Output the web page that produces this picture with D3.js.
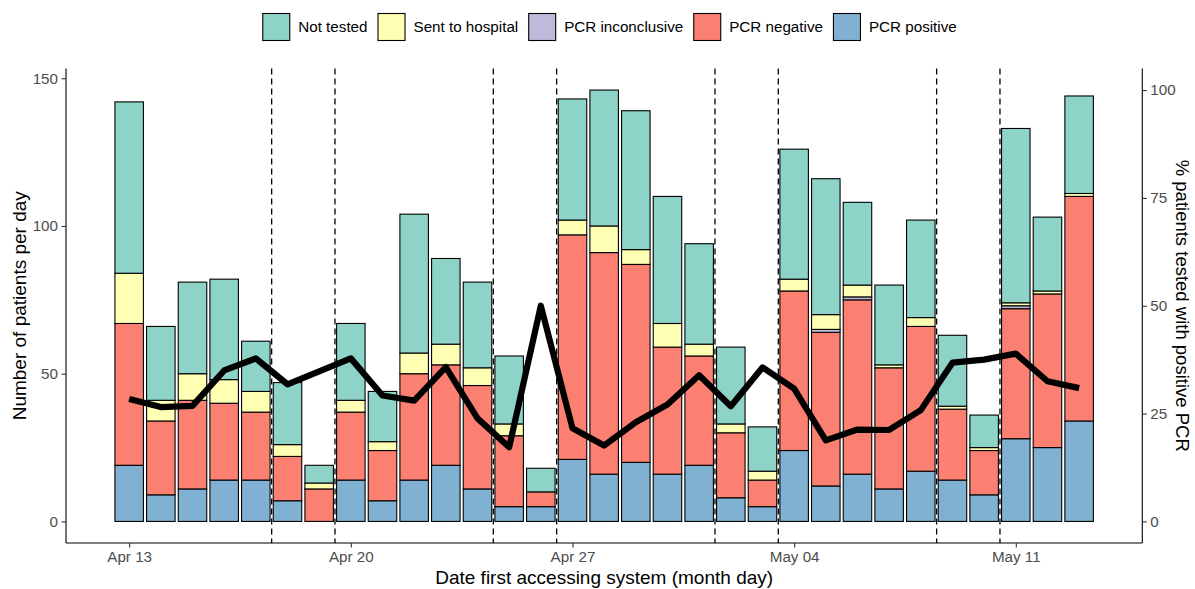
<!DOCTYPE html>
<html>
<head>
<meta charset="utf-8">
<script src="https://cdn.jsdelivr.net/npm/d3@7"></script>
<style>
  html, body { margin: 0; padding: 0; background: #fff; }
  svg { display: block; font-family: "Liberation Sans", Arial, Helvetica, sans-serif; }
</style>
</head>
<body>
<svg id="chart" width="1195" height="589"></svg>
<script>
// ---------- data ----------
const dates = ["2020-04-13","2020-04-14","2020-04-15","2020-04-16","2020-04-17","2020-04-18","2020-04-19",
  "2020-04-20","2020-04-21","2020-04-22","2020-04-23","2020-04-24","2020-04-25","2020-04-26",
  "2020-04-27","2020-04-28","2020-04-29","2020-04-30","2020-05-01","2020-05-02","2020-05-03",
  "2020-05-04","2020-05-05","2020-05-06","2020-05-07","2020-05-08","2020-05-09","2020-05-10",
  "2020-05-11","2020-05-12","2020-05-13"];
const pcrPositive     = [19,9,11,14,14,7,0,14,7,14,19,11,5,5,21,16,20,16,19,8,5,24,12,16,11,17,14,9,28,25,34];
const pcrNegative     = [48,25,30,26,23,15,11,23,17,36,34,35,24,5,76,75,67,43,37,22,9,54,52,59,41,49,24,15,44,52,76];
const pcrInconclusive = [0,0,0,0,0,0,0,0,0,0,0,0,0,0,0,0,0,0,0,0,0,0,1,1,0,0,0,0,1,0,0];
const sentToHospital  = [17,7,9,8,7,4,2,4,3,7,7,6,4,0,5,9,5,8,4,3,3,4,5,4,1,3,1,1,1,1,1];
const notTested       = [58,25,31,34,17,21,6,26,17,47,29,29,23,8,41,46,47,43,34,26,15,44,46,28,27,33,24,11,59,25,33];
// % of tested patients with positive PCR (line, right axis); Apr 19 has no point
const pctPositive = [28.4,26.5,26.8,35.0,37.8,31.8,null,37.8,29.2,28.0,35.8,23.9,17.2,50.0,
  21.6,17.6,23.0,27.1,33.9,26.7,35.7,30.8,18.8,21.3,21.2,25.8,36.8,37.5,38.9,32.5,30.9];
// weekends (dashed lines drawn around them)
const weekendStarts = ["2020-04-18","2020-04-25","2020-05-02","2020-05-09"];
const weekendEnds   = ["2020-04-19","2020-04-26","2020-05-03","2020-05-10"];
const xTickDates = ["2020-04-13","2020-04-20","2020-04-27","2020-05-04","2020-05-11"];
const leftTicks = [0,50,100,150];
const rightTicks = [0,25,50,75,100];
const seriesNames = ["PCR positive","PCR negative","PCR inconclusive","Sent to hospital","Not tested"];
const seriesColors = ["#80B1D3","#FB8072","#BEBADA","#FFFFB3","#8DD3C7"];
const legendOrder = ["Not tested","Sent to hospital","PCR inconclusive","PCR negative","PCR positive"];
const secAxisMax = 146; // count that corresponds to 100 % on right axis

// ---------- setup ----------
const parse = d3.utcParse("%Y-%m-%d");
const DAY = 864e5;
const svg = d3.select("#chart");
const L = 66, R = 1142.3, T = 68.5, B = 543;

const rows = dates.map((d, i) => ({
  date: parse(d),
  "PCR positive": pcrPositive[i],
  "PCR negative": pcrNegative[i],
  "PCR inconclusive": pcrInconclusive[i],
  "Sent to hospital": sentToHospital[i],
  "Not tested": notTested[i]
}));
const stack = d3.stack().keys(seriesNames)(rows);
const maxTotal = d3.max(stack[stack.length - 1], d => d[1]);

const first = parse(dates[0]), last = parse(dates[dates.length - 1]);
const span = (last - first) / DAY + 0.9;
const padDays = 0.45 + span * 0.05;
const x = d3.scaleUtc()
  .domain([new Date(+first - padDays * DAY), new Date(+last + padDays * DAY)])
  .range([L, R]);
const yPad = maxTotal * 0.05;
const y = d3.scaleLinear().domain([-yPad, maxTotal + yPad]).range([B, T]);
const y2 = d3.scaleLinear().domain(y.domain().map(v => v / secAxisMax * 100)).range([B, T]);
const bw = x(new Date(+first + 0.9 * DAY)) - x(first);

const color = d3.scaleOrdinal().domain(seriesNames).range(seriesColors);

// ---------- bars ----------
const gBars = svg.append("g");
stack.forEach(layer => {
  gBars.append("g").selectAll("rect")
    .data(layer.filter(d => d[1] - d[0] > 0))
    .join("rect")
    .attr("x", d => x(d.data.date) - bw / 2)
    .attr("width", bw)
    .attr("y", d => y(d[1]))
    .attr("height", d => y(d[0]) - y(d[1]))
    .attr("fill", color(layer.key))
    .attr("stroke", "#000")
    .attr("stroke-width", 1.1);
});

// ---------- weekend dashed lines ----------
const vlines = [];
weekendStarts.forEach(d => vlines.push(new Date(+parse(d) - 0.5 * DAY)));
weekendEnds.forEach(d => vlines.push(new Date(+parse(d) + 0.5 * DAY)));
svg.append("g").selectAll("line").data(vlines).join("line")
  .attr("x1", d => x(d)).attr("x2", d => x(d))
  .attr("y1", T).attr("y2", B)
  .attr("stroke", "#000").attr("stroke-width", 1.3)
  .attr("stroke-dasharray", "6,4");

// ---------- percent line ----------
const linePts = dates.map((d, i) => ({ date: parse(d), v: pctPositive[i] })).filter(p => p.v !== null);
svg.append("path")
  .datum(linePts)
  .attr("d", d3.line().x(p => x(p.date)).y(p => y2(p.v)))
  .attr("fill", "none")
  .attr("stroke", "#000")
  .attr("stroke-width", 6.2)
  .attr("stroke-linejoin", "round");

// ---------- axes ----------
const tickCol = "#333333", labCol = "#4D4D4D", fs = 15.2, tfs = 19;
function styleAxis(g) {
  g.select(".domain").attr("stroke", "#000").attr("stroke-width", 1.1);
  g.selectAll(".tick line").attr("stroke", tickCol).attr("stroke-width", 1.1);
  g.selectAll(".tick text").attr("fill", labCol).attr("font-size", fs).attr("font-family", "Liberation Sans, Arial, sans-serif");
}
const xAxis = svg.append("g").attr("transform", `translate(0,${B})`)
  .call(d3.axisBottom(x).tickValues(xTickDates.map(parse)).tickFormat(d3.utcFormat("%b %d"))
    .tickSizeOuter(0).tickSize(4.5).tickPadding(3.5));
styleAxis(xAxis);
const yAxis = svg.append("g").attr("transform", `translate(${L},0)`)
  .call(d3.axisLeft(y).tickValues(leftTicks).tickSizeOuter(0).tickSize(4.5).tickPadding(3.5));
styleAxis(yAxis);
const y2Axis = svg.append("g").attr("transform", `translate(${R},0)`)
  .call(d3.axisRight(y2).tickValues(rightTicks).tickSizeOuter(0).tickSize(4.5).tickPadding(3.5));
styleAxis(y2Axis);
// domains must span full panel
xAxis.select(".domain").attr("d", `M${L},0H${R}`);
yAxis.select(".domain").attr("d", `M0,${T}V${B}`);
y2Axis.select(".domain").attr("d", `M0,${T}V${B}`);

// ---------- titles ----------
svg.append("text").attr("x", (L + R) / 2).attr("y", 584)
  .attr("text-anchor", "middle").attr("font-size", tfs).attr("fill", "#000")
  .text("Date first accessing system (month day)");
svg.append("text").attr("transform", `translate(26,${(T + B) / 2}) rotate(-90)`)
  .attr("text-anchor", "middle").attr("font-size", tfs).attr("fill", "#000")
  .text("Number of patients per day");
svg.append("text").attr("transform", `translate(1176,${(T + B) / 2}) rotate(90)`)
  .attr("text-anchor", "middle").attr("font-size", 18.5).attr("fill", "#000")
  .text("% patients tested with positive PCR");

// ---------- legend ----------
const gLeg = svg.append("g");
const keySize = 28, keyGap = 8, itemGap = 10;
let cx = 0;
legendOrder.forEach(name => {
  const it = gLeg.append("g").attr("transform", `translate(${cx},0)`);
  it.append("rect").attr("x", 0.5).attr("y", 13.5).attr("width", keySize - 1).attr("height", keySize - 1)
    .attr("fill", color(name)).attr("stroke", "#000").attr("stroke-width", 1.1);
  const t = it.append("text").attr("x", keySize + keyGap).attr("y", 27).attr("dy", "0.35em")
    .attr("font-size", fs).attr("fill", "#000").text(name);
  const w = t.node().getComputedTextLength();
  cx += keySize + keyGap + w + itemGap;
});
const totalW = cx - itemGap;
gLeg.attr("transform", `translate(${609.5 - totalW / 2},0)`);
</script>
</body>
</html>
